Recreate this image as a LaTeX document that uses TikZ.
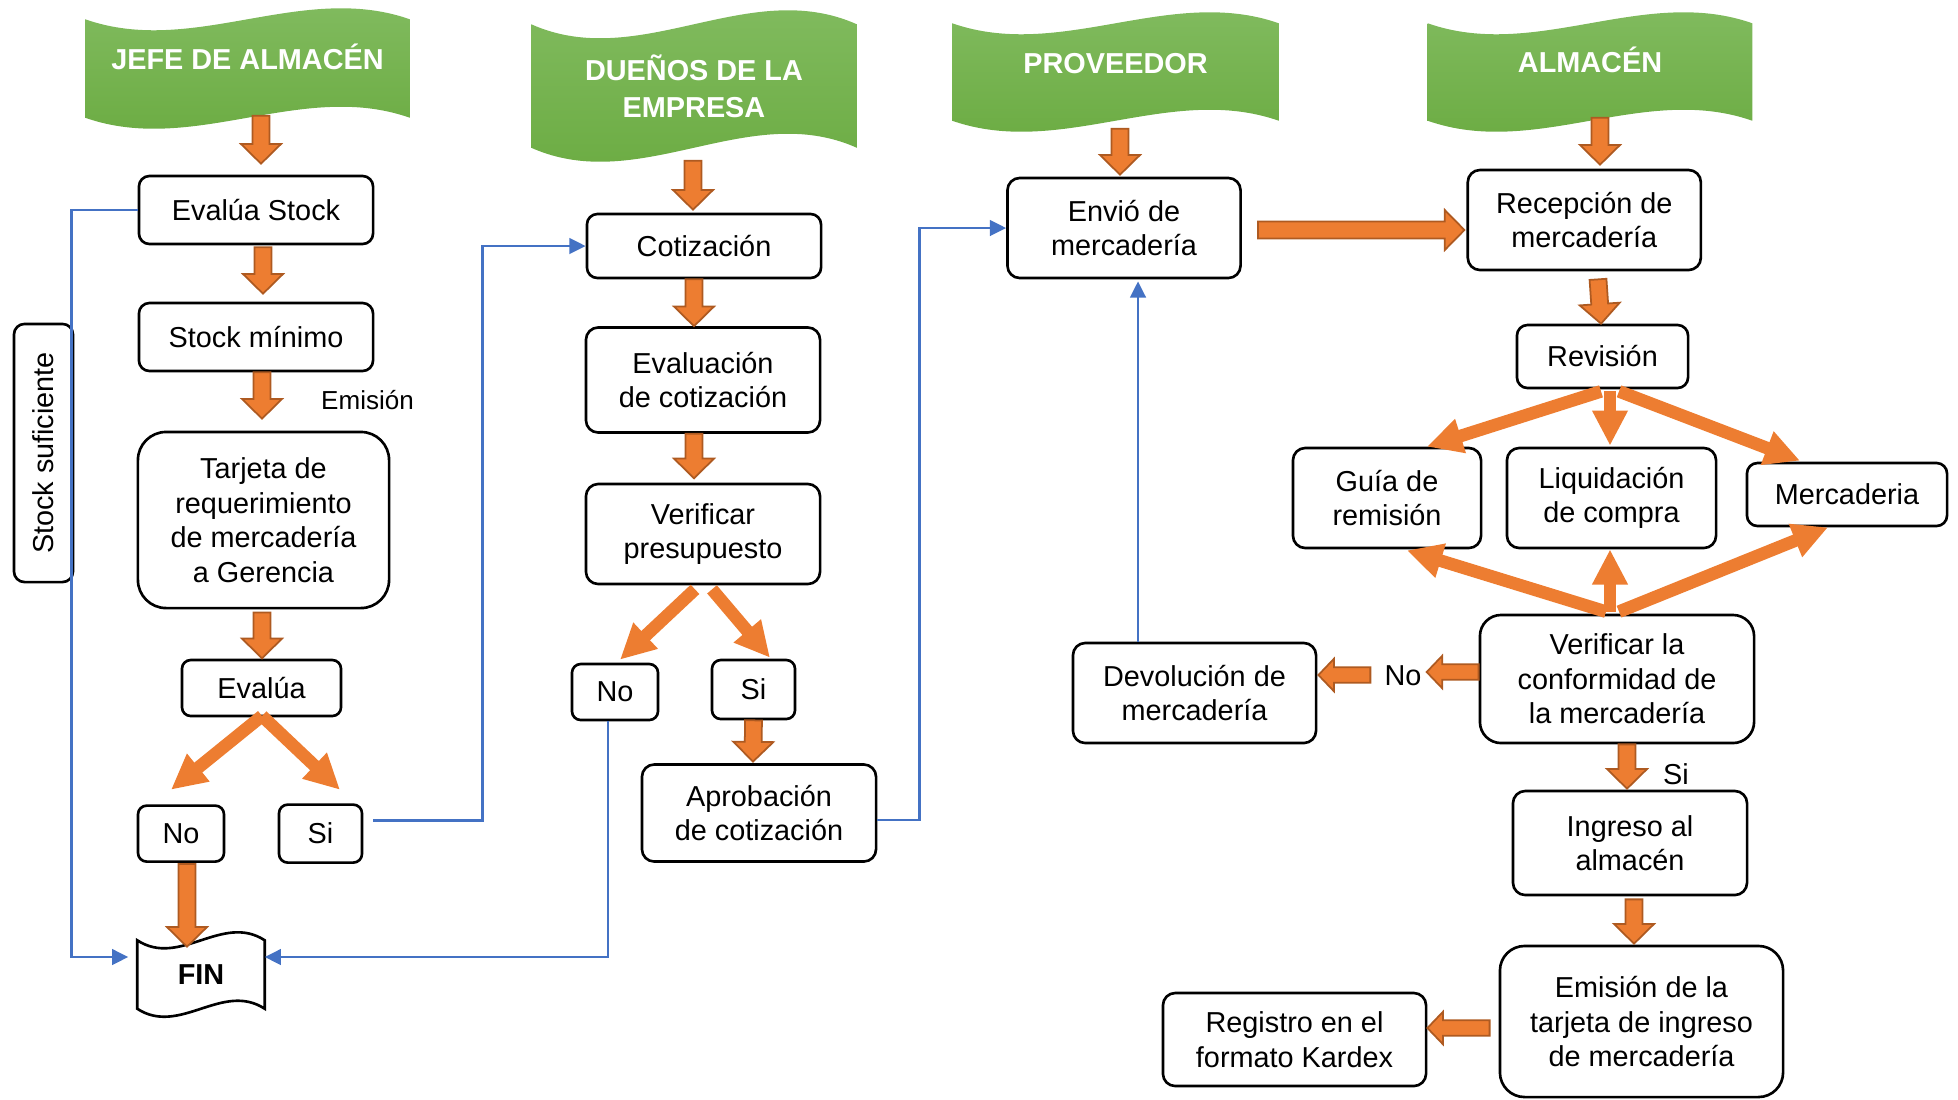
\documentclass[tikz,border=0pt]{standalone}
\usepackage{fontspec}
\setmainfont{Liberation Sans}
\usetikzlibrary{calc,arrows.meta,backgrounds}

\definecolor{arrfill}{HTML}{ED7D31}
\definecolor{arrline}{HTML}{AE5A21}
\definecolor{flowblue}{HTML}{4472C4}
\definecolor{hdrtop}{HTML}{84BD63}
\definecolor{hdrbot}{HTML}{69AA3F}

\newcommand{\boxfont}{\fontsize{8.2}{9.8}\selectfont}
\newcommand{\shaftw}{2.4pt}
\newcommand{\headw}{5.7pt}
\newcommand{\headl}{5.6pt}

% wavy outline around a node (banner / punched tape)
\newcommand{\banwave}[3]{%
  \path[#3] (#1.north west)
    .. controls ($(#1.north west)!1/3!(#1.north east)+(0,3.46*#2)$) and ($(#1.north west)!2/3!(#1.north east)+(0,-3.46*#2)$) .. (#1.north east)
    -- (#1.south east)
    .. controls ($(#1.south west)!2/3!(#1.south east)+(0,-3.46*#2)$) and ($(#1.south west)!1/3!(#1.south east)+(0,3.46*#2)$) .. (#1.south west)
    -- cycle;}

\begin{document}
\begin{tikzpicture}[x=0.01cm, y=-0.01cm,
  box/.style={draw, line width=0.75pt, rounded corners=3.5pt, fill=white, align=center, font=\boxfont, inner sep=1pt},
  hdr/.style={text=white, align=center, inner sep=0pt, font=\bfseries\fontsize{8.2}{10.5}\selectfont},
  hdrfill/.style={top color=hdrtop, bottom color=hdrbot},
  lbl/.style={font=\boxfont, inner sep=1pt},
  flow/.style={draw=flowblue, line width=0.8pt, -{Triangle[length=4.6pt,width=4.4pt]}},
  dia/.style={draw=arrfill, line width=3.6pt, -{Triangle[length=10pt,width=9.5pt]}},
  blk/.style={draw=arrline, fill=arrfill, line width=0.5pt, line join=miter,
    to path={let \p1=(\tikztostart), \p2=(\tikztotarget), \n1={atan2(\y2-\y1,\x2-\x1)} in
      ($(\p1)+(\n1+90:\shaftw)$) -- ($(\p2)+(\n1+180:\headl)+(\n1+90:\shaftw)$)
      -- ($(\p2)+(\n1+180:\headl)+(\n1+90:\headw)$) -- (\p2)
      -- ($(\p2)+(\n1+180:\headl)+(\n1-90:\headw)$) -- ($(\p2)+(\n1+180:\headl)+(\n1-90:\shaftw)$)
      -- ($(\p1)+(\n1-90:\shaftw)$) -- cycle}},
  blks/.style={blk, /utils/exec={\renewcommand{\shaftw}{2.2pt}\renewcommand{\headw}{4.6pt}\renewcommand{\headl}{4.4pt}}}
]
\useasboundingbox (0,0) rectangle (1958,1099);

% Headers
\node[hdr, minimum width=3.23cm, minimum height=0.97cm] (hdr1) at (247.5,68.5) {\raisebox{6.6pt}{JEFE DE ALMACÉN}};
\node[hdr, minimum width=3.24cm, minimum height=1.22cm] (hdr2) at (694,86) {DUEÑOS DE LA\\EMPRESA};
\node[hdr, minimum width=3.25cm, minimum height=0.96cm] (hdr3) at (1115.5,72) {\raisebox{5pt}{PROVEEDOR}};
\node[hdr, minimum width=3.23cm, minimum height=0.96cm] (hdr4) at (1590,72) {\raisebox{6.8pt}{ALMACÉN}};

% Jefe de almacen
\node[box, rounded corners=3pt, minimum width=2.34cm, minimum height=0.68cm] (evs) at (256,210) {Evalúa Stock};
\node[box, rounded corners=3pt, minimum width=2.34cm, minimum height=0.68cm] (smin) at (256,337) {Stock mínimo};
\node[box, rounded corners=8pt, minimum width=2.51cm, minimum height=1.76cm] (tarj) at (263.5,520) {Tarjeta de\\requerimiento\\de mercadería\\a Gerencia};
\node[box, rounded corners=2.5pt, minimum width=1.59cm, minimum height=0.56cm] (eva) at (261.5,688) {Evalúa};
\node[box, rounded corners=2.5pt, minimum width=0.86cm, minimum height=0.56cm] (no1) at (181,833.6) {No};
\node[box, rounded corners=2.5pt, minimum width=0.83cm, minimum height=0.58cm] (si1) at (320.5,833.6) {Si};
\node[font=\bfseries\boxfont, minimum width=1.26cm, minimum height=0.67cm] (fin) at (201,974.5) {FIN};
\node[box, rotate=90, rounded corners=3pt, minimum width=2.58cm, minimum height=0.59cm] (suf) at (43.5,453) {Stock suficiente};
\node[lbl, font=\fontsize{7.4}{9}\selectfont, anchor=west] (emi) at (317,400) {Emisión};

% Duenos de la empresa
\node[box, rounded corners=3pt, minimum width=2.34cm, minimum height=0.64cm] (coti) at (704,246) {Cotización};
\node[box, minimum width=2.34cm, minimum height=1.05cm] (evc) at (703,380) {Evaluación\\de cotización};
\node[box, minimum width=2.34cm, minimum height=1.00cm] (verp) at (703,534) {Verificar\\presupuesto};
\node[box, rounded corners=2.5pt, minimum width=0.86cm, minimum height=0.56cm] (no2) at (615,692) {No};
\node[box, rounded corners=2.5pt, minimum width=0.83cm, minimum height=0.59cm] (si2) at (753.5,689.5) {Si};
\node[box, minimum width=2.34cm, minimum height=0.97cm] (apro) at (759,813) {Aprobación\\de cotización};

% Proveedor
\node[box, minimum width=2.33cm, minimum height=1.00cm] (envio) at (1124,228) {Envió de\\mercadería};
\node[box, minimum width=2.43cm, minimum height=1.00cm] (devo) at (1194.5,693) {Devolución de\\mercadería};

% Almacen
\node[box, minimum width=2.33cm, minimum height=1.00cm] (recep) at (1584.3,220) {Recepción de\\mercadería};
\node[box, rounded corners=3pt, minimum width=1.71cm, minimum height=0.63cm] (revi) at (1602.5,356.5) {Revisión};
\node[box, minimum width=1.88cm, minimum height=1.00cm] (guia) at (1387,498) {Guía de\\remisión};
\node[box, minimum width=2.09cm, minimum height=1.00cm] (liqu) at (1611.5,498) {Liquidación\\de compra};
\node[box, rounded corners=3pt, minimum width=2.00cm, minimum height=0.63cm] (merc) at (1847,494.5) {Mercaderia};
\node[box, rounded corners=6pt, minimum width=2.74cm, minimum height=1.28cm] (vconf) at (1617,679) {Verificar la\\conformidad de\\la mercadería};
\node[lbl] (nolbl) at (1403,676) {No};
\node[lbl] (silbl) at (1676,774) {Si};
\node[box, minimum width=2.34cm, minimum height=1.04cm] (ingr) at (1630,843) {Ingreso al\\almacén};
\node[box, rounded corners=7pt, minimum width=2.83cm, minimum height=1.51cm] (emis) at (1641.5,1021.5) {Emisión de la\\tarjeta de ingreso\\de mercadería};
\node[box, minimum width=2.63cm, minimum height=0.93cm] (regi) at (1294.5,1039.5) {Registro en el\\formato Kardex};

% Banners and end shape
\begin{scope}[on background layer]
\banwave{hdr1}{11}{hdrfill}
\banwave{hdr2}{14}{hdrfill}
\banwave{hdr3}{11}{hdrfill}
\banwave{hdr4}{11}{hdrfill}
\banwave{fin}{8}{draw, fill=white, line width=0.75pt}
\end{scope}

% Block arrows
\draw[blk] ($(hdr1.south)+(13.5,-2)$) to ($(evs.north)+(5,-11)$);
\draw[blk] ($(evs.south)+(7,2)$) to ($(smin.north)+(7,-8)$);
\draw[blk] ($(smin.south)+(6,0)$) to ($(tarj.north)+(-1.5,-12)$);
\draw[blk] ($(tarj.south)+(-1.5,3)$) to ($(eva.north)+(0.5,-0.4)$);
\draw[blk] ($(no1.south)+(6,1)$) to ($(fin.north)+(-14,6.4)$);
\draw[blk] ($(hdr2.south)+(-1,13)$) to ($(coti.north)+(-11,-3)$);
\draw[blk] ($(coti.south)+(-10,0)$) to ($(evc.north)+(-9,0)$);
\draw[blk] ($(evc.south)+(-9,0)$) to ($(verp.north)+(-9,-4.4)$);
\draw[blk] (si2.south) to ($(apro.north)+(-6,-1.6)$);
\draw[blk] ($(hdr3.south)+(4.5,8)$) to ($(envio.north)+(-4,-2)$);
\draw[blk] ($(envio.east)+(16,2)$) to ($(recep.west)+(-2,10)$);
\draw[blk] ($(hdr4.south)+(10,-3)$) to ($(recep.north)+(15.7,-4)$);
\draw[blk] ($(recep.south)+(13.7,8)$) to ($(revi.north)+(-1.5,0)$);
\draw[blk] ($(vconf.south)+(10,0)$) to ($(ingr.north)+(-3,-1)$);
\draw[blk] ($(ingr.south)+(4,3)$) to ($(emis.north)+(-7.5,-1)$);
\draw[blks] ($(vconf.west)+(0,-7)$) to ($(nolbl.east)+(1,-4)$);
\draw[blks] ($(nolbl.west)+(-10,-1)$) to ($(devo.east)+(1,-18)$);
\draw[blks] ($(emis.west)+(-9,6.5)$) to ($(regi.east)+(0,-11.5)$);

% Branch arrows
\draw[dia] ($(eva.south)+(0.5,-1.4)$) -- ($(no1.north)+(-10,-14.6)$);
\draw[dia] ($(eva.south)+(0.5,-1.4)$) -- ($(si1.north)+(19.5,-13.5)$);
\draw[dia] ($(verp.south)+(-8,4)$) -- ($(no2.north)+(5,-3)$);
\draw[dia] ($(verp.south)+(9,4)$) -- ($(si2.north)+(16.5,-1)$);
\draw[dia] ($(revi.south)+(-1.5,2)$) -- ($(guia.north)+(40,0)$);
\draw[dia] ($(revi.south)+(7.5,2)$) -- ($(liqu.north)+(-1.5,-1)$);
\draw[dia] ($(revi.south)+(16.5,2)$) -- ($(merc.north)+(-47,-1)$);
\draw[dia] ($(vconf.north)+(-11,-2)$) -- ($(guia.south)+(20,1)$);
\draw[dia] ($(vconf.north)+(-7,-2)$) -- ($(liqu.south)+(-1.5,0)$);
\draw[dia] ($(vconf.north)+(2,-2)$) -- ($(merc.south)+(-19,0)$);

% Blue connectors
\draw[flow] (evs.west) -- ++(-66,0) |- ($(fin.west)+(-9,-17.5)$);
\draw[flow] ($(si1.east)+(10,-13)$) -- ++(109,0) |- (coti.west);
\draw[flow] ($(no2.south)+(-7,0)$) |- ($(fin.east)+(0,-17.5)$);
\draw[flow] ($(apro.east)+(0,7)$) -- ++(42,0) |- (envio.west);
\draw[flow] ($(devo.north)+(-56.5,0)$) -- ($(envio.south)+(14,2)$);

\end{tikzpicture}
\end{document}
